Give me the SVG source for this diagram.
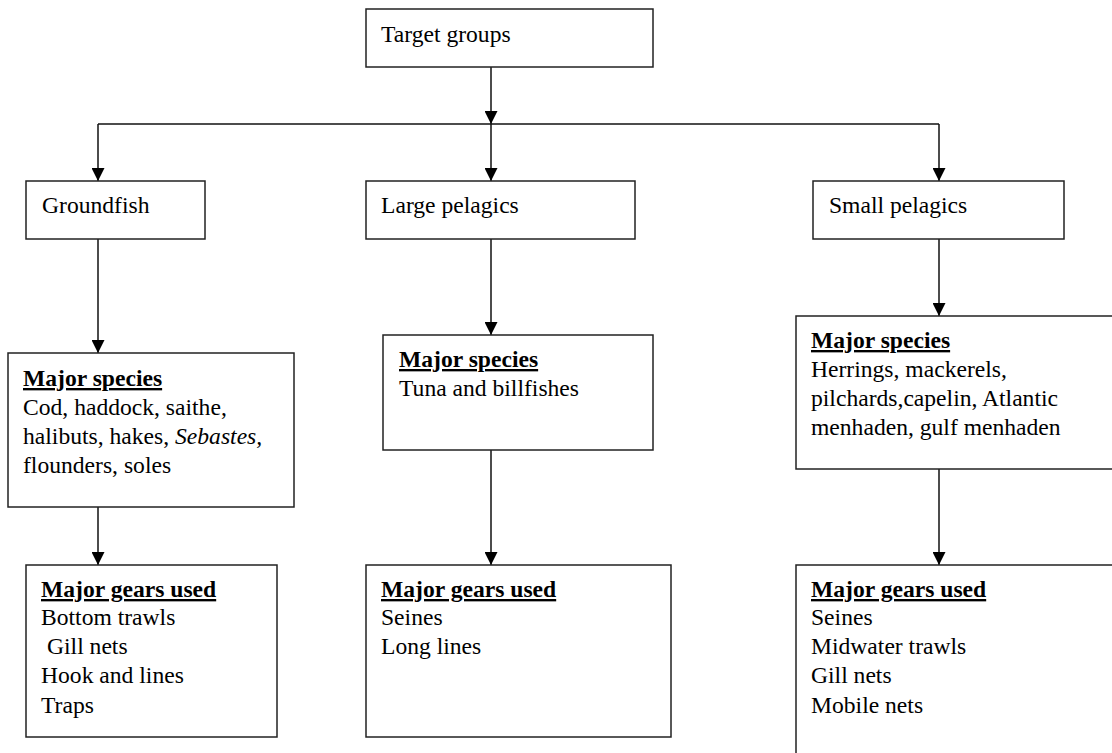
<svg xmlns="http://www.w3.org/2000/svg" width="1112" height="753" viewBox="0 0 1112 753">
<style>
.box{fill:#fff;stroke:#222;stroke-width:1.5}
.t{font-family:"Liberation Serif","Times New Roman",serif;font-size:23.6px;fill:#000}
.h{font-weight:bold;text-decoration:underline}
.c{stroke:#111;stroke-width:1.5;fill:none}
</style>
<defs>
<marker id="ah" viewBox="0 0 10 10" refX="10" refY="5" markerWidth="15" markerHeight="13" markerUnits="userSpaceOnUse" orient="auto">
<path d="M0,0 L10,5 L0,10 z" fill="#000"/>
</marker>
</defs>
<rect width="1112" height="753" fill="#fff"/>
<g id="connectors">
<line class="c" x1="491" y1="67" x2="491" y2="124" marker-end="url(#ah)"/>
<line class="c" x1="98" y1="124" x2="939" y2="124"/>
<line class="c" x1="98" y1="124" x2="98" y2="181" marker-end="url(#ah)"/>
<line class="c" x1="491" y1="124" x2="491" y2="181" marker-end="url(#ah)"/>
<line class="c" x1="939" y1="124" x2="939" y2="181" marker-end="url(#ah)"/>
<line class="c" x1="98" y1="239" x2="98" y2="353" marker-end="url(#ah)"/>
<line class="c" x1="491" y1="239" x2="491" y2="335" marker-end="url(#ah)"/>
<line class="c" x1="939" y1="239" x2="939" y2="316" marker-end="url(#ah)"/>
<line class="c" x1="98" y1="507" x2="98" y2="565" marker-end="url(#ah)"/>
<line class="c" x1="491" y1="450" x2="491" y2="565" marker-end="url(#ah)"/>
<line class="c" x1="939" y1="469" x2="939" y2="565" marker-end="url(#ah)"/>
</g>
<g id="target">
<rect class="box" x="366" y="9" width="287" height="58"/>
<text class="t" x="381" y="42">Target groups</text>
</g>
<g id="groundfish">
<rect class="box" x="26" y="181" width="179" height="58"/>
<text class="t" x="42" y="213">Groundfish</text>
</g>
<g id="large-pelagics">
<rect class="box" x="366" y="181" width="269" height="58"/>
<text class="t" x="381" y="213">Large pelagics</text>
</g>
<g id="small-pelagics">
<rect class="box" x="813" y="181" width="251" height="58"/>
<text class="t" x="829" y="213">Small pelagics</text>
</g>
<g id="groundfish-species">
<rect class="box" x="8" y="353" width="286" height="154"/>
<text class="t h" x="23" y="386">Major species</text>
<text class="t" x="23" y="415">Cod, haddock, saithe,</text>
<text class="t" x="23" y="444">halibuts, hakes, <tspan font-style="italic">Sebastes,</tspan></text>
<text class="t" x="23" y="473">flounders, soles</text>
</g>
<g id="large-species">
<rect class="box" x="383" y="335" width="270" height="115"/>
<text class="t h" x="399" y="367">Major species</text>
<text class="t" x="399" y="396">Tuna and billfishes</text>
</g>
<g id="small-species">
<rect class="box" x="796" y="316" width="340" height="153"/>
<text class="t h" x="811" y="348">Major species</text>
<text class="t" x="811" y="377">Herrings, mackerels,</text>
<text class="t" x="811" y="406">pilchards,capelin, Atlantic</text>
<text class="t" x="811" y="435">menhaden, gulf menhaden</text>
</g>
<g id="groundfish-gears">
<rect class="box" x="26" y="565" width="251" height="172"/>
<text class="t h" x="41" y="597">Major gears used</text>
<text class="t" x="41" y="625">Bottom trawls</text>
<text class="t" x="47" y="654">Gill nets</text>
<text class="t" x="41" y="683">Hook and lines</text>
<text class="t" x="41" y="713">Traps</text>
</g>
<g id="large-gears">
<rect class="box" x="366" y="565" width="305" height="172"/>
<text class="t h" x="381" y="597">Major gears used</text>
<text class="t" x="381" y="625">Seines</text>
<text class="t" x="381" y="654">Long lines</text>
</g>
<g id="small-gears">
<rect class="box" x="796" y="565" width="340" height="220"/>
<text class="t h" x="811" y="597">Major gears used</text>
<text class="t" x="811" y="625">Seines</text>
<text class="t" x="811" y="654">Midwater trawls</text>
<text class="t" x="811" y="683">Gill nets</text>
<text class="t" x="811" y="713">Mobile nets</text>
</g>
</svg>
